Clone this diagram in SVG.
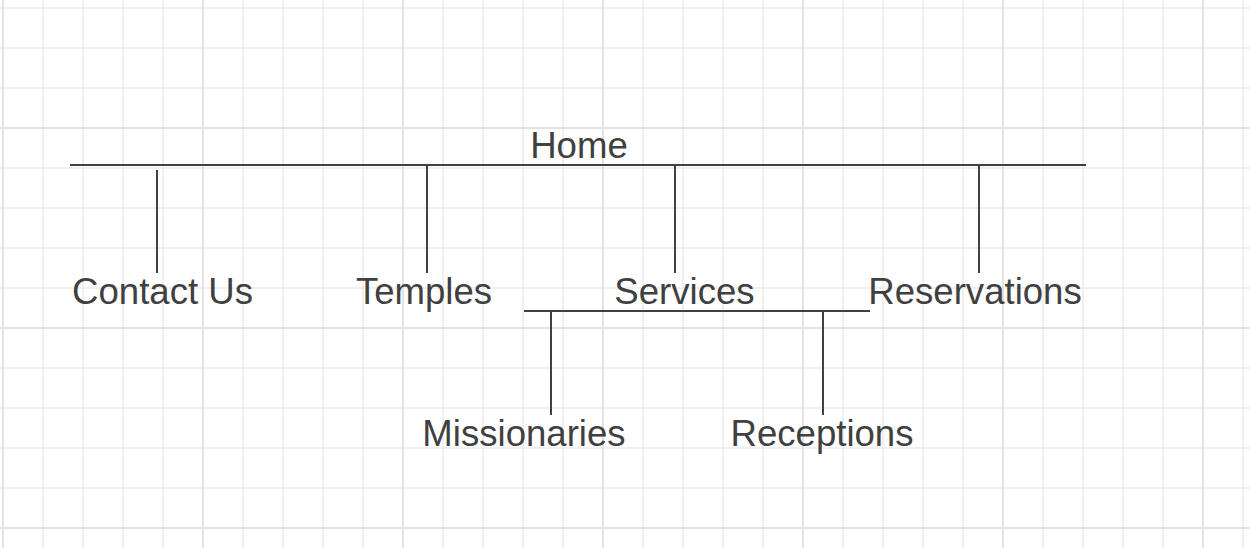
<svg xmlns="http://www.w3.org/2000/svg" width="1250" height="548" viewBox="0 0 1250 548">
  <style>
    .lbl { font-family: "Liberation Sans", Arial, sans-serif; font-size: 36.6px; fill: #404040; text-anchor: middle; }
    .ln { stroke: #404040; stroke-width: 2; fill: none; }
  </style>
  <defs>
    <pattern id="minor" patternUnits="userSpaceOnUse" x="2" y="7" width="40" height="40">
      <path d="M1 0 V40 M0 1 H40" stroke="#ececec" stroke-width="1.5" fill="none"/>
    </pattern>
    <pattern id="major" patternUnits="userSpaceOnUse" x="2" y="127" width="200" height="200">
      <path d="M1 0 V200 M0 1 H200" stroke="#dfdfdf" stroke-width="1.5" fill="none"/>
    </pattern>
  </defs>
  <g id="background">
    <rect width="1250" height="548" fill="#ffffff"/>
    <rect width="1250" height="548" fill="url(#minor)"/>
    <rect width="1250" height="548" fill="url(#major)"/>
  </g>
  <g id="connectors">
    <line class="ln" x1="70" y1="165" x2="1086" y2="165"/>
    <line class="ln" x1="157" y1="170" x2="157" y2="273"/>
    <line class="ln" x1="427" y1="165" x2="427" y2="273"/>
    <line class="ln" x1="675" y1="165" x2="675" y2="273"/>
    <line class="ln" x1="979" y1="165" x2="979" y2="273"/>
    <line class="ln" x1="524" y1="311" x2="870" y2="311"/>
    <line class="ln" x1="551" y1="311" x2="551" y2="415"/>
    <line class="ln" x1="823" y1="311" x2="823" y2="415"/>
  </g>
  <g id="node-home"><text class="lbl" x="579" y="158">Home</text></g>
  <g id="node-contact"><text class="lbl" x="162.5" y="304">Contact Us</text></g>
  <g id="node-temples"><text class="lbl" x="424" y="304">Temples</text></g>
  <g id="node-services"><text class="lbl" x="684.5" y="304">Services</text></g>
  <g id="node-reservations"><text class="lbl" x="975" y="304">Reservations</text></g>
  <g id="node-missionaries"><text class="lbl" x="524" y="446">Missionaries</text></g>
  <g id="node-receptions"><text class="lbl" x="822" y="446">Receptions</text></g>
</svg>
